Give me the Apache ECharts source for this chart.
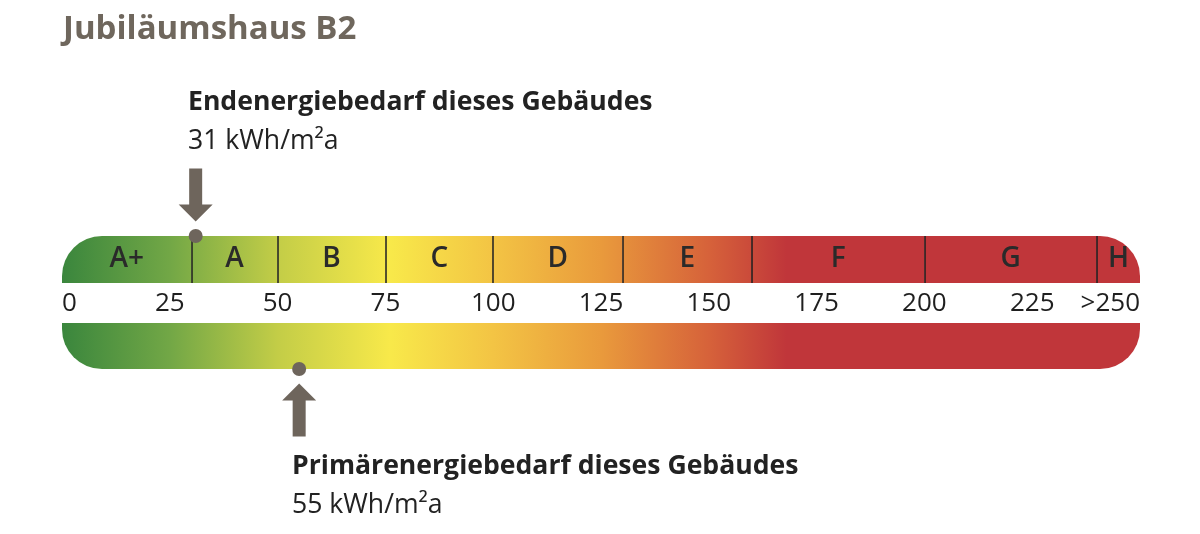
<!DOCTYPE html>
<html>
<head>
<meta charset="utf-8">
<script src="https://cdn.jsdelivr.net/npm/echarts@6/dist/echarts.min.js"></script>
<style>
  html, body { margin: 0; padding: 0; background: #fff; }
  #chart { width: 1200px; height: 534px; }
</style>
</head>
<body>
<div id="chart"></div>
<script>
// Energieklassen und Grenzen (kWh/m²a)
const classNames = ['A+', 'A', 'B', 'C', 'D', 'E', 'F', 'G', 'H'];
const classBounds = [0, 30, 50, 75, 100, 130, 160, 200, 240, 250];
const tickLabels = ['0', '25', '50', '75', '100', '125', '150', '175', '200', '225', '>250'];
const endEnergy = 31;       // Endenergiebedarf
const primaryEnergy = 55;   // Primärenergiebedarf
const scaleMax = 250;

// farbverlauf über die skala (wert, farbe)
const colorStops = [
    [0, '#3a863d'], [25, '#72a746'], [50, '#c3cd47'], [76, '#f8e94a'],
    [100, '#f3c444'], [125, '#e99a3c'], [150, '#d6623a'], [168, '#c0363a'], [250, '#c0363a']
];
const markerColor = '#6e655c';
const font = 'Open Sans';

function hexToRgb(h) {
    return [parseInt(h.substr(1, 2), 16), parseInt(h.substr(3, 2), 16), parseInt(h.substr(5, 2), 16)];
}
function colorAt(v) {
    for (let i = 0; i < colorStops.length - 1; i++) {
        const a = colorStops[i], b = colorStops[i + 1];
        if (v >= a[0] && v <= b[0]) {
            const t = (v - a[0]) / (b[0] - a[0]);
            const ca = hexToRgb(a[1]), cb = hexToRgb(b[1]);
            const c = ca.map((x, k) => Math.round(x + (cb[k] - x) * t));
            return 'rgb(' + c.join(',') + ')';
        }
    }
    return colorStops[colorStops.length - 1][1];
}
// gradient für einen abschnitt [lo, hi]
function segmentGradient(lo, hi) {
    const stops = [{ offset: 0, color: colorAt(lo) }];
    colorStops.forEach(s => {
        if (s[0] > lo && s[0] < hi) stops.push({ offset: (s[0] - lo) / (hi - lo), color: s[1] });
    });
    stops.push({ offset: 1, color: colorAt(hi) });
    return new echarts.graphic.LinearGradient(0, 0, 1, 0, stops);
}

const chart = echarts.init(document.getElementById('chart'));

const classSeries = classNames.map((name, i) => {
    const lo = classBounds[i], hi = classBounds[i + 1];
    let radius = 0;
    if (i === 0) radius = [40, 0, 0, 0];
    if (i === classNames.length - 1) radius = [0, 40, 0, 0];
    return {
        type: 'bar',
        name: name,
        stack: 'klassen',
        xAxisIndex: 0,
        yAxisIndex: 0,
        barWidth: '100%',
        data: [hi - lo],
        itemStyle: { color: segmentGradient(lo, hi), borderRadius: radius },
        label: {
            show: true,
            position: 'inside',
            formatter: name,
            color: '#2a2a2a',
            fontFamily: font,
            fontSize: 28,
            fontWeight: 600
        },
        silent: true
    };
});
// trennlinien zwischen den klassen
classSeries[0].markLine = {
    silent: true,
    symbol: 'none',
    label: { show: false },
    lineStyle: { color: '#1e1e1e', width: 1.5, type: 'solid' },
    data: classBounds.slice(1, -1).map(b => ({ xAxis: b }))
};

const bottomStops = colorStops.map(s => ({ offset: s[0] / scaleMax, color: s[1] }));

const arrowDown = 'path://M10.5,0 L23.5,0 L23.5,36 L34,36 L17,53 L0,36 L10.5,36 Z';
const arrowUp = 'path://M17,0 L34,17 L23.5,17 L23.5,53 L10.5,53 L10.5,17 L0,17 Z';

const option = {
    animation: false,
    title: {
        text: 'Jubiläumshaus B2',
        left: 58,
        top: 8,
        textStyle: { color: '#6f675d', fontFamily: font, fontSize: 33, fontWeight: 'bold' }
    },
    grid: [
        { left: 62, right: 60, top: 236, height: 47 },
        { left: 62, right: 60, top: 323, height: 46 }
    ],
    xAxis: [
        {
            gridIndex: 0, type: 'value', min: 0, max: scaleMax, interval: 25,
            axisLine: { show: false }, axisTick: { show: false }, splitLine: { show: false },
            axisLabel: {
                margin: 8,
                color: '#1f1f1f',
                fontFamily: font,
                fontSize: 26,
                alignMinLabel: 'left',
                alignMaxLabel: 'right',
                formatter: v => tickLabels[Math.round(v / 25)]
            }
        },
        { gridIndex: 1, type: 'value', min: 0, max: scaleMax, show: false }
    ],
    yAxis: [
        { gridIndex: 0, type: 'category', data: ['Klasse'], show: false },
        { gridIndex: 0, type: 'value', min: 0, max: 1, show: false },
        { gridIndex: 1, type: 'category', data: ['Skala'], show: false },
        { gridIndex: 1, type: 'value', min: 0, max: 1, show: false }
    ],
    series: classSeries.concat([
        {
            type: 'bar',
            xAxisIndex: 1,
            yAxisIndex: 2,
            barWidth: '100%',
            silent: true,
            data: [scaleMax],
            itemStyle: {
                color: new echarts.graphic.LinearGradient(0, 0, 1, 0, bottomStops),
                borderRadius: [0, 0, 40, 40]
            }
        },
        // Endenergie: punkt + pfeil
        {
            type: 'scatter', xAxisIndex: 0, yAxisIndex: 1, z: 10, silent: true,
            symbol: 'circle', symbolSize: 14,
            itemStyle: { color: markerColor, opacity: 1 },
            data: [[endEnergy, 1]]
        },
        {
            type: 'scatter', xAxisIndex: 0, yAxisIndex: 1, z: 10, silent: true,
            symbol: arrowDown, symbolSize: [34, 53], symbolOffset: [0, -41],
            itemStyle: { color: markerColor, opacity: 1 },
            data: [[endEnergy, 1]]
        },
        // Primärenergie: punkt + pfeil
        {
            type: 'scatter', xAxisIndex: 1, yAxisIndex: 3, z: 10, silent: true,
            symbol: 'circle', symbolSize: 14,
            itemStyle: { color: markerColor, opacity: 1 },
            data: [[primaryEnergy, 0]]
        },
        {
            type: 'scatter', xAxisIndex: 1, yAxisIndex: 3, z: 10, silent: true,
            symbol: arrowUp, symbolSize: [34, 53], symbolOffset: [0, 41],
            itemStyle: { color: markerColor, opacity: 1 },
            data: [[primaryEnergy, 0]]
        }
    ]),
    graphic: [
        {
            type: 'text', left: 188, top: 89,
            style: { text: 'Endenergiebedarf dieses Gebäudes', fill: '#222', font: 'bold 26.6px "Open Sans"' }
        },
        {
            type: 'text', left: 188, top: 128,
            style: { text: endEnergy + ' kWh/m²a', fill: '#222', font: '26.6px "Open Sans"' }
        },
        {
            type: 'text', left: 292, top: 453,
            style: { text: 'Primärenergiebedarf dieses Gebäudes', fill: '#222', font: 'bold 26.6px "Open Sans"' }
        },
        {
            type: 'text', left: 292, top: 492,
            style: { text: primaryEnergy + ' kWh/m²a', fill: '#222', font: '26.6px "Open Sans"' }
        }
    ]
};

chart.setOption(option);
</script>
</body>
</html>
